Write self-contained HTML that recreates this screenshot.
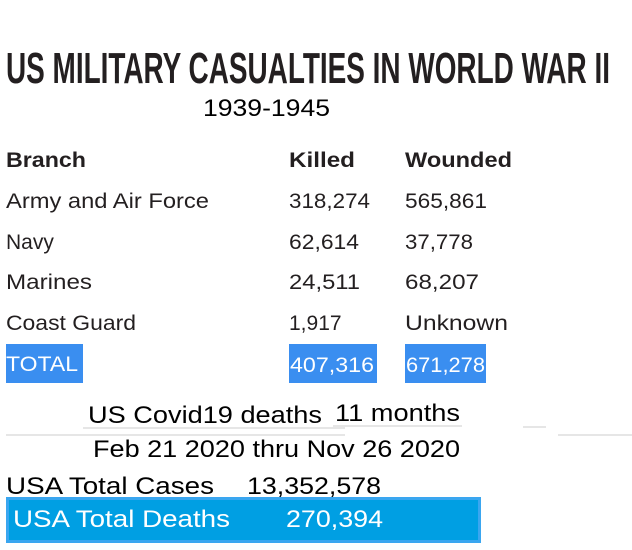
<!DOCTYPE html>
<html><head><meta charset="utf-8"><style>
html,body{margin:0;padding:0;background:#fff;}
svg{display:block;}
</style></head><body>
<svg width="632" height="550" viewBox="0 0 632 550" xmlns="http://www.w3.org/2000/svg" font-family="Liberation Sans, Arial, sans-serif">
<text x="6" y="83" font-size="44" font-weight="bold" fill="#231f20" textLength="604" lengthAdjust="spacingAndGlyphs">US MILITARY CASUALTIES IN WORLD WAR II</text>
<text x="203" y="116" font-size="24" fill="#000" textLength="127" lengthAdjust="spacingAndGlyphs">1939-1945</text>
<g fill="#231f20" font-size="21">
<text x="6" y="167" font-weight="bold" textLength="80" lengthAdjust="spacingAndGlyphs">Branch</text>
<text x="289" y="167" font-weight="bold" textLength="66" lengthAdjust="spacingAndGlyphs">Killed</text>
<text x="405" y="167" font-weight="bold" textLength="107" lengthAdjust="spacingAndGlyphs">Wounded</text>
<text x="6" y="208" textLength="203" lengthAdjust="spacingAndGlyphs">Army and Air Force</text>
<text x="289" y="208" textLength="81" lengthAdjust="spacingAndGlyphs">318,274</text>
<text x="405" y="208" textLength="82" lengthAdjust="spacingAndGlyphs">565,861</text>
<text x="6" y="249">Navy</text>
<text x="289" y="249" textLength="70" lengthAdjust="spacingAndGlyphs">62,614</text>
<text x="405" y="249" textLength="68" lengthAdjust="spacingAndGlyphs">37,778</text>
<text x="6" y="289" textLength="86" lengthAdjust="spacingAndGlyphs">Marines</text>
<text x="289" y="289" textLength="71" lengthAdjust="spacingAndGlyphs">24,511</text>
<text x="405" y="289" textLength="74" lengthAdjust="spacingAndGlyphs">68,207</text>
<text x="6" y="330" textLength="130" lengthAdjust="spacingAndGlyphs">Coast Guard</text>
<text x="289" y="330">1,917</text>
<text x="405" y="330" textLength="103" lengthAdjust="spacingAndGlyphs">Unknown</text>
</g>
<rect x="6" y="344" width="77" height="39" fill="#3a8ef0"/>
<rect x="289" y="344" width="88" height="39" fill="#3a8ef0"/>
<rect x="405" y="344" width="81" height="39" fill="#3a8ef0"/>
<g fill="#fff" font-size="21">
<text x="6" y="371" textLength="72" lengthAdjust="spacingAndGlyphs">TOTAL</text>
<text x="290" y="372" textLength="84" lengthAdjust="spacingAndGlyphs">407,316</text>
<text x="406" y="372" textLength="79" lengthAdjust="spacingAndGlyphs">671,278</text>
</g>
<g stroke="#ddd" stroke-width="1.5">
<line x1="83" y1="428" x2="345" y2="428"/>
<line x1="333" y1="426" x2="462" y2="426"/>
<line x1="6" y1="435" x2="345" y2="435"/>
<line x1="523" y1="427" x2="546" y2="427"/>
<line x1="558" y1="435" x2="632" y2="435"/>
</g>
<g fill="#000" font-size="24">
<text x="88" y="423" textLength="234" lengthAdjust="spacingAndGlyphs">US Covid19 deaths</text>
<text x="335" y="421" textLength="125" lengthAdjust="spacingAndGlyphs">11 months</text>
<text x="93" y="457" textLength="367" lengthAdjust="spacingAndGlyphs">Feb 21 2020 thru Nov 26 2020</text>
<text x="6" y="494" textLength="208" lengthAdjust="spacingAndGlyphs">USA Total Cases</text>
<text x="247" y="494" textLength="134" lengthAdjust="spacingAndGlyphs">13,352,578</text>
</g>
<rect x="6" y="497" width="475" height="46" fill="#009fe3"/>
<rect x="7.5" y="498.5" width="472" height="43" fill="none" stroke="#3aa6f0" stroke-width="3"/>
<g fill="#fff" font-size="24">
<text x="13" y="527" textLength="217" lengthAdjust="spacingAndGlyphs">USA Total Deaths</text>
<text x="286" y="527" textLength="97" lengthAdjust="spacingAndGlyphs">270,394</text>
</g>
</svg>
</body></html>
